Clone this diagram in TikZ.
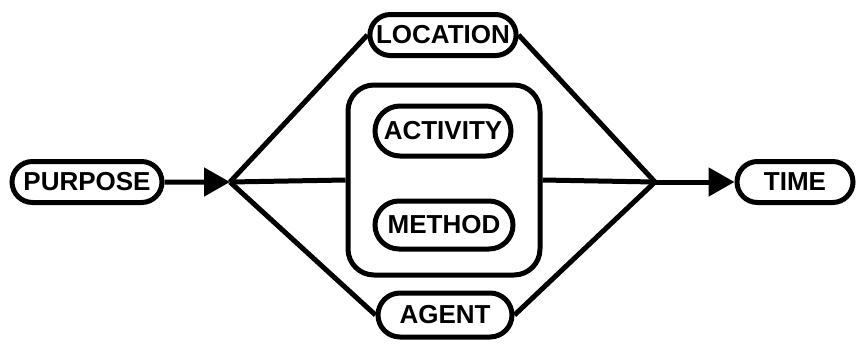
\documentclass[tikz,border=0pt]{standalone}
\usepackage{fontspec}
\setsansfont{Liberation Sans}
\usepackage{tikz}
\usetikzlibrary{arrows.meta,shapes.misc}
\tikzset{
  pill/.style={draw,line width=2.5pt,rounded rectangle,minimum height=20.5pt,inner xsep=2pt,inner ysep=0pt,
    font=\sffamily\bfseries\fontsize{13}{14}\selectfont},
  ln/.style={line width=2.5pt},
  ar/.style={line width=2.5pt,-{Triangle[length=13pt,width=14pt]}}
}
\begin{document}
\begin{tikzpicture}[x=0.5pt,y=-0.5pt]
\useasboundingbox (0,0) rectangle (861,344);
\node[pill,minimum width=79pt] (purpose) at (87,182) {PURPOSE};
\node[pill,minimum width=70pt] (location) at (443,35) {LOCATION};
\node[draw,line width=2.5pt,rounded corners=13pt,minimum width=96pt,minimum height=95pt] (group) at (444,180) {};
\node[pill,minimum width=72pt,minimum height=25pt] (activity) at (443,131) {ACTIVITY};
\node[pill,minimum width=73pt,minimum height=24pt] (method) at (444,225) {METHOD};
\node[pill,minimum width=71pt,minimum height=22pt] (agent) at (445,315) {AGENT};
\node[pill,minimum width=62pt] (time) at (795,182) {TIME};
\coordinate (split) at (230,182);
\coordinate (merge) at (655,182);
% fork and join
\draw[ar] (purpose) -- (split);
\draw[ln] (split) -- (location.west);
\draw[ln] (split) -- (group.west);
\draw[ln] (split) -- (agent.west);
\draw[ln] (location.east) -- (merge);
\draw[ln] (group.east) -- (merge);
\draw[ln] (agent.east) -- (merge);
\draw[ar] (merge) -- (time);
\end{tikzpicture}
\end{document}
